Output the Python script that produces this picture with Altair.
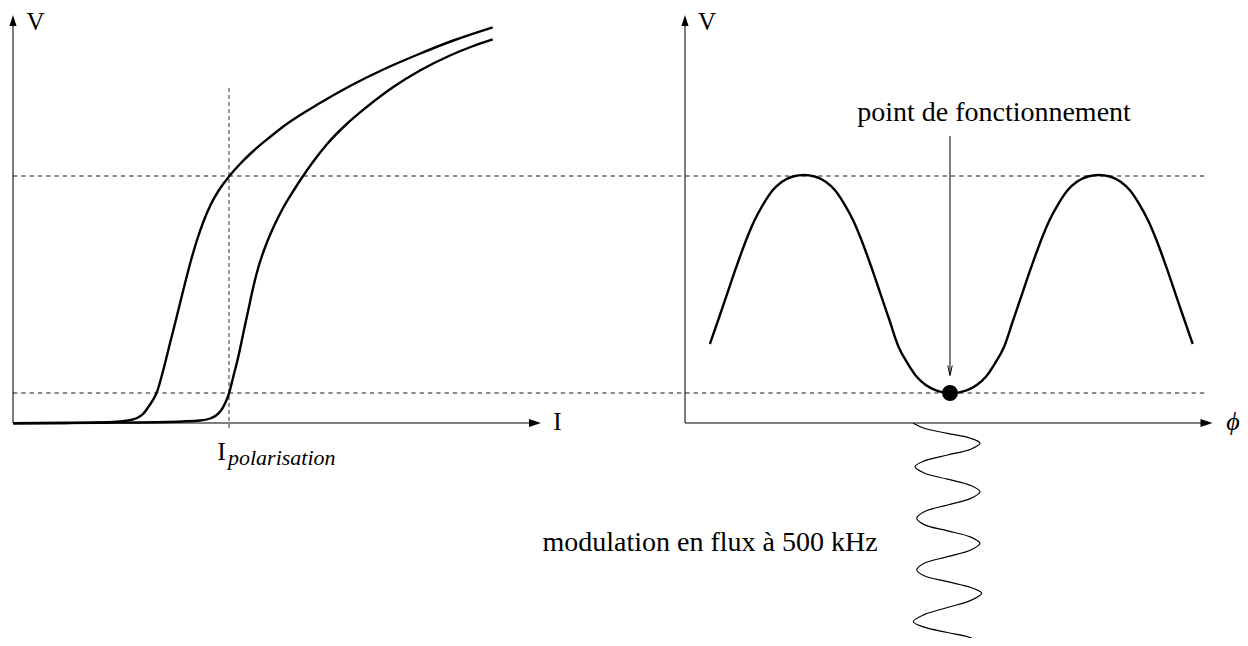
import altair as alt
import pandas as pd

FONT = "'Liberation Serif', 'Times New Roman', serif"

# ---------------- data (diagram frame, page-pixel units; y grows downward) ----------------
# Left panel: two I-V characteristics
curve_a_x = [13.3, 66.7, 100, 120, 130, 137, 143, 149, 156.7, 163.3, 170, 176.7, 183.3, 190,
             196.7, 203.3, 211, 219, 229, 240, 253.3, 270, 286.7, 320, 350, 383.3, 416.7, 453.3, 492.7]
curve_a_y = [423.3, 423, 422.5, 421.5, 420.2, 418, 414, 406, 392.7, 370, 343.3, 316.7, 290, 264,
             241, 222, 204, 190, 176.5, 164, 151, 137, 124, 103, 86, 69.5, 55, 40.5, 27.3]
curve_b_x = [13.3, 100, 166.7, 200, 210, 216, 221, 225, 229, 233.3, 238.3, 243.3, 248.3, 253.3, 258.3,
             265, 273.3, 283.3, 293.3, 301.7, 313.3, 326.7, 346.7, 366.7, 393.3, 420, 450, 473.3, 492.7]
curve_b_y = [423.3, 422.8, 422, 420.5, 418.5, 415.5, 410.5, 403.5, 393.3, 376.7, 356.7, 333.3, 310,
             287, 267.5, 247.5, 227.5, 207.5, 191, 178, 161.5, 144.5, 124, 107, 87, 70.5, 55.5, 46, 39.3]

# Right panel: V(phi)
vphi_x = [709.9, 718.2, 727.3, 736.4, 745.5, 754.7, 763.8, 772.9, 782, 792.9, 803.8, 814.7, 825.7,
          834.8, 843.9, 853, 862.1, 871.2, 880.3, 889.4, 898.5, 907.6, 916.7, 925.8, 936.7, 950.6,
          965.9, 976.8, 985.9, 995, 1004.1, 1013.2, 1022.3, 1031.4, 1040.5, 1049.6, 1058.7, 1067.8,
          1076.9, 1087.9, 1098.8, 1109.7, 1120.6, 1129.7, 1138.8, 1147.9, 1157.1, 1166.2, 1175.3,
          1184.4, 1192.7]
vphi_y = [344, 320, 293.3, 266.7, 241.7, 220, 203.3, 190, 181.7, 176.5, 175, 176.5, 181.7,
          190, 203.3, 220, 241.7, 266.7, 293.3, 320, 346.7, 363.3, 376.7, 385, 390.7, 393.3,
          390.7, 385, 376.7, 363.3, 346.7, 320, 293.3, 266.7, 241.7, 220, 203.3, 190,
          181.7, 176.5, 175, 176.5, 181.7, 190, 203.3, 220, 241.7, 266.7, 293.3,
          320, 344]

# Flux modulation (vertical sine under the phi axis)
mod_x = [913.3, 924.2, 947.5, 970.8, 980, 970.8, 947.5, 924.2, 915, 924.2, 947.5, 970.8, 980,
         970.8, 947.5, 924.2, 916.7, 924.2, 947.5, 970.8, 980, 970.8, 947.5, 924.2, 916.7, 924.2,
         947.5, 970.8, 981.7, 970.8, 947.5, 924.2, 913.3, 924.2, 947.5, 970.8, 978.3]
mod_y = [423.3, 428.3, 433.3, 438.3, 443.3, 449.2, 455, 460.9, 466.7, 473, 479.2, 485.5, 491.7,
         498.4, 505, 511.7, 518.3, 524.6, 530.8, 537.1, 543.3, 550, 556.7, 563.3, 570, 575.8,
         581.7, 587.5, 593.3, 600.4, 607.5, 614.6, 621.7, 627.1, 632.5, 637.9, 643.3]

# Reference levels (dashed)
level_y = [176, 393]
level_x0 = [13, 13]
level_x1 = [1208, 1208]
bias_x = [229]
bias_y0 = [88]
bias_y1 = [430]

# Axes
h_axis_x0 = [13, 685]
h_axis_x1 = [530, 1201]
h_axis_y = [423, 423]
v_axis_x = [13, 685]
v_axis_y0 = [423, 423]
v_axis_y1 = [25, 25]
arrow_right_x = [535, 1206.5]
arrow_right_y = [423, 423]
arrow_up_x = [13, 685]
arrow_up_y = [20.5, 20.5]

# Operating point
op_x = [950]
op_y = [393]
op_arrow_x = [950]
op_arrow_y0 = [136]
op_arrow_y1 = [375]
op_head_y = [370.5]

# Texts
upright_labels = ["V", "V", "I"]
upright_x = [35.5, 707, 557.5]
upright_y = [30, 30, 430]
phi_label = ["ϕ"]
phi_x = [1233]
phi_y = [430]
bias_main = ["I"]
bias_main_x = [221.5]
bias_main_y = [460]
bias_sub = ["polarisation"]
bias_sub_x = [228]
bias_sub_y = [465]
annot_text = ["point de fonctionnement", "modulation en flux à 500 kHz"]
annot_x = [994, 710]
annot_y = [121, 551]

# ---------------- chart ----------------
xs = alt.Scale(domain=[8, 1240], nice=False, zero=False)
ys = alt.Scale(domain=[8, 638], nice=False, zero=False, reverse=True)


def X(f="x"):
    return alt.X(f"{f}:Q", scale=xs, axis=None)


def Y(f="y"):
    return alt.Y(f"{f}:Q", scale=ys, axis=None)


levels = pd.DataFrame({"y": level_y, "x": level_x0, "x2": level_x1})
bias = pd.DataFrame({"x": bias_x, "y": bias_y0, "y2": bias_y1})
haxes = pd.DataFrame({"x": h_axis_x0, "x2": h_axis_x1, "y": h_axis_y})
vaxes = pd.DataFrame({"x": v_axis_x, "y": v_axis_y0, "y2": v_axis_y1})
arr_r = pd.DataFrame({"x": arrow_right_x, "y": arrow_right_y})
arr_u = pd.DataFrame({"x": arrow_up_x, "y": arrow_up_y})

iv = pd.concat([
    pd.DataFrame({"x": curve_a_x, "y": curve_a_y, "s": "a", "i": range(len(curve_a_x))}),
    pd.DataFrame({"x": curve_b_x, "y": curve_b_y, "s": "b", "i": range(len(curve_b_x))}),
    pd.DataFrame({"x": vphi_x, "y": vphi_y, "s": "c", "i": range(len(vphi_x))}),
])
mod = pd.DataFrame({"x": mod_x, "y": mod_y, "i": range(len(mod_x))})

dash_levels = alt.Chart(levels).mark_rule(color="#666666", strokeWidth=1.3, strokeDash=[4.3, 4]).encode(
    x=X(), x2="x2:Q", y=Y())
dash_bias = alt.Chart(bias).mark_rule(color="#444444", strokeWidth=1.1, strokeDash=[4, 3]).encode(
    x=X(), y=Y(), y2="y2:Q")
h_ax = alt.Chart(haxes).mark_rule(color="#555555", strokeWidth=1.7).encode(x=X(), x2="x2:Q", y=Y())
v_ax = alt.Chart(vaxes).mark_rule(color="#111111", strokeWidth=1.1).encode(x=X(), y=Y(), y2="y2:Q")
head_r = alt.Chart(arr_r).mark_point(shape="M1,0L-1,-0.65L-1,0.65Z", filled=True, size=144,
                                     color="black", opacity=1).encode(x=X(), y=Y())
head_u = alt.Chart(arr_u).mark_point(shape="M0,-1L-0.65,1L0.65,1Z", filled=True, size=121,
                                     color="black", opacity=1).encode(x=X(), y=Y())

curves = alt.Chart(iv).mark_line(color="black", strokeWidth=2.4, interpolate="monotone").encode(
    x=X(), y=Y(), detail="s:N", order="i:Q")
modline = alt.Chart(mod).mark_line(color="black", strokeWidth=1.2, interpolate="catmull-rom").encode(
    x=X(), y=Y(), order="i:Q")

op_line = alt.Chart(pd.DataFrame({"x": op_arrow_x, "y": op_arrow_y0, "y2": op_arrow_y1})).mark_rule(
    color="black", strokeWidth=1).encode(x=X(), y=Y(), y2="y2:Q")
op_head = alt.Chart(pd.DataFrame({"x": op_arrow_x, "y": op_head_y})).mark_point(
    shape="M-0.45,-1L0,1L0.45,-1", filled=False, size=100, stroke="black", strokeWidth=1,
    opacity=1).encode(x=X(), y=Y())
op_dot = alt.Chart(pd.DataFrame({"x": op_x, "y": op_y})).mark_circle(
    size=254, color="black", opacity=1).encode(x=X(), y=Y())

t_up = alt.Chart(pd.DataFrame({"x": upright_x, "y": upright_y, "t": upright_labels})).mark_text(
    font=FONT, fontSize=25, align="center", baseline="alphabetic", color="black").encode(
    x=X(), y=Y(), text="t:N")
t_phi = alt.Chart(pd.DataFrame({"x": phi_x, "y": phi_y, "t": phi_label})).mark_text(
    font=FONT, fontSize=26, fontStyle="italic", align="center", baseline="alphabetic",
    color="black").encode(x=X(), y=Y(), text="t:N")
t_bias = alt.Chart(pd.DataFrame({"x": bias_main_x, "y": bias_main_y, "t": bias_main})).mark_text(
    font=FONT, fontSize=26, align="center", baseline="alphabetic", color="black").encode(
    x=X(), y=Y(), text="t:N")
t_sub = alt.Chart(pd.DataFrame({"x": bias_sub_x, "y": bias_sub_y, "t": bias_sub})).mark_text(
    font=FONT, fontSize=22, fontStyle="italic", align="left", baseline="alphabetic",
    color="black").encode(x=X(), y=Y(), text="t:N")
t_annot = alt.Chart(pd.DataFrame({"x": annot_x, "y": annot_y, "t": annot_text})).mark_text(
    font=FONT, fontSize=28, align="center", baseline="alphabetic", color="black").encode(
    x=X(), y=Y(), text="t:N")

chart = alt.layer(
    dash_levels, dash_bias, h_ax, v_ax, head_r, head_u, curves, modline,
    op_line, op_head, op_dot, t_up, t_phi, t_bias, t_sub, t_annot,
).properties(
    width=1232, height=630, padding=0,
    autosize=alt.AutoSizeParams(type="none"),
).configure_view(stroke=None)

chart.save("out.html", embed_options={"renderer": "svg", "actions": False})
